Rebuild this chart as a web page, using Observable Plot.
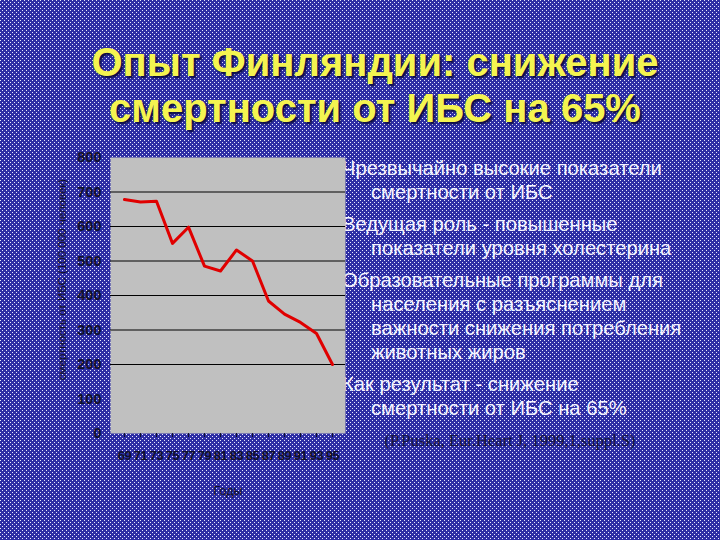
<!DOCTYPE html>
<html>
<head>
<meta charset="utf-8">
<script src="https://cdn.jsdelivr.net/npm/d3@7"></script>
<script src="https://cdn.jsdelivr.net/npm/@observablehq/plot@0.6"></script>
<style>
  html, body { margin: 0; padding: 0; }
  #slide {
    position: relative; width: 720px; height: 540px; overflow: hidden;
    background-color: #2e2ea4;
    background-image: url("data:image/svg+xml,%3Csvg xmlns='http://www.w3.org/2000/svg' width='4' height='4' shape-rendering='crispEdges'%3E%3Crect x='0' y='0' width='1' height='1' fill='%23e8e8ff'/%3E%3Crect x='2' y='2' width='1' height='1' fill='%23e8e8ff'/%3E%3C/svg%3E");
    background-size: 4px 4px;
    font-family: "Liberation Sans", Arial, sans-serif;
  }
  #title {
    position: absolute; left: 0; width: 750px; top: 39px; text-align: center;
    color: #f4f450; font-weight: bold; font-size: 40px; line-height: 46px;
    text-shadow: 2px 2px 2px #0a0a40;
  }
  #bullets {
    position: absolute; left: 342px; top: 156px; color: #f4f4ff;
    font-size: 20.2px; line-height: 24px; z-index: 1;
  }
  #bullets div { padding-left: 29px; text-indent: -29px; margin-bottom: 8px; }
  #cite {
    position: absolute; left: 360px; top: 431px; width: 300px; text-align: center;
    font-family: "Liberation Serif", "Times New Roman", serif; font-size: 16.5px; color: #14143a;
  }
  #chart { position: absolute; left: 0; top: 140px; z-index: 2; }
  #chart g[aria-label="x-axis tick label"] text { letter-spacing: -0.4px; }
</style>
</head>
<body>
<div id="slide">
  <div id="title">Опыт Финляндии: снижение<br>смертности от ИБС на 65%</div>
  <div id="bullets"></div>
  <div id="cite">(P.Puska, Eur.Heart J, 1999,1,suppl.S)</div>
  <div id="chart"></div>
</div>
<script>
const years = ["69","71","73","75","77","79","81","83","85","87","89","91","93","95"];
const mortality = [678, 671, 673, 551, 598, 485, 471, 532, 500, 384, 346, 322, 290, 200];
const yTicks = [0, 100, 200, 300, 400, 500, 600, 700, 800];
const gridValues = [200, 300, 400, 500, 600, 700];
const yLabel = "смертность от ИБС (100 000 человек)";
const xLabel = "Годы";
const bulletLines = [
  ["Чрезвычайно высокие показатели", "смертности от ИБС"],
  ["Ведущая роль - повышенные", "показатели уровня холестерина"],
  ["Образовательные программы для", "населения с разъяснением", "важности снижения потребления", "животных жиров"],
  ["Как результат - снижение", "смертности от ИБС на 65%"]
];

const bulletEl = document.getElementById("bullets");
bulletLines.forEach(lines => {
  const d = document.createElement("div");
  d.innerHTML = lines.join("<br>");
  bulletEl.appendChild(d);
});

const data = years.map((y, i) => ({year: y, value: mortality[i]}));
const sans = "'Liberation Sans', Arial, sans-serif";

const chart = Plot.plot({
  width: 350,
  height: 370,
  marginLeft: 110,
  marginRight: 5,
  marginTop: 17,
  marginBottom: 77,
  style: {fontFamily: sans, fontSize: "14px", color: "#15152a", background: "transparent", overflow: "visible"},
  x: {type: "point", domain: years, padding: 0.5, label: null},
  y: {domain: [0, 800], label: null},
  marks: [
    Plot.frame({fill: "#c0c0c0", stroke: null}),
    Plot.ruleY(gridValues, {stroke: "#000", strokeWidth: 1.2}),
    Plot.axisY({ticks: yTicks, tickSize: 0, tickPadding: 9, fill: "#10102a", fontWeight: "bold", fontSize: 14.5, label: null}),
    Plot.axisX({tickSize: 4, tickPadding: 13, fill: "#10102a", fontWeight: "bold", fontSize: 13, label: null, stroke: "#10102a"}),
    Plot.text([yLabel], {frameAnchor: "left", dx: -48, dy: -16, rotate: -90, textAnchor: "middle", fontSize: 11.5, fill: "#10102a"}),
    Plot.text([xLabel], {frameAnchor: "bottom", dy: 61, fontSize: 12.5, fill: "#10102a"}),
    Plot.line(data, {x: "year", y: "value", stroke: "#e00000", strokeWidth: 3, strokeLinejoin: "round"})
  ]
});
document.getElementById("chart").appendChild(chart);
</script>
</body>
</html>
